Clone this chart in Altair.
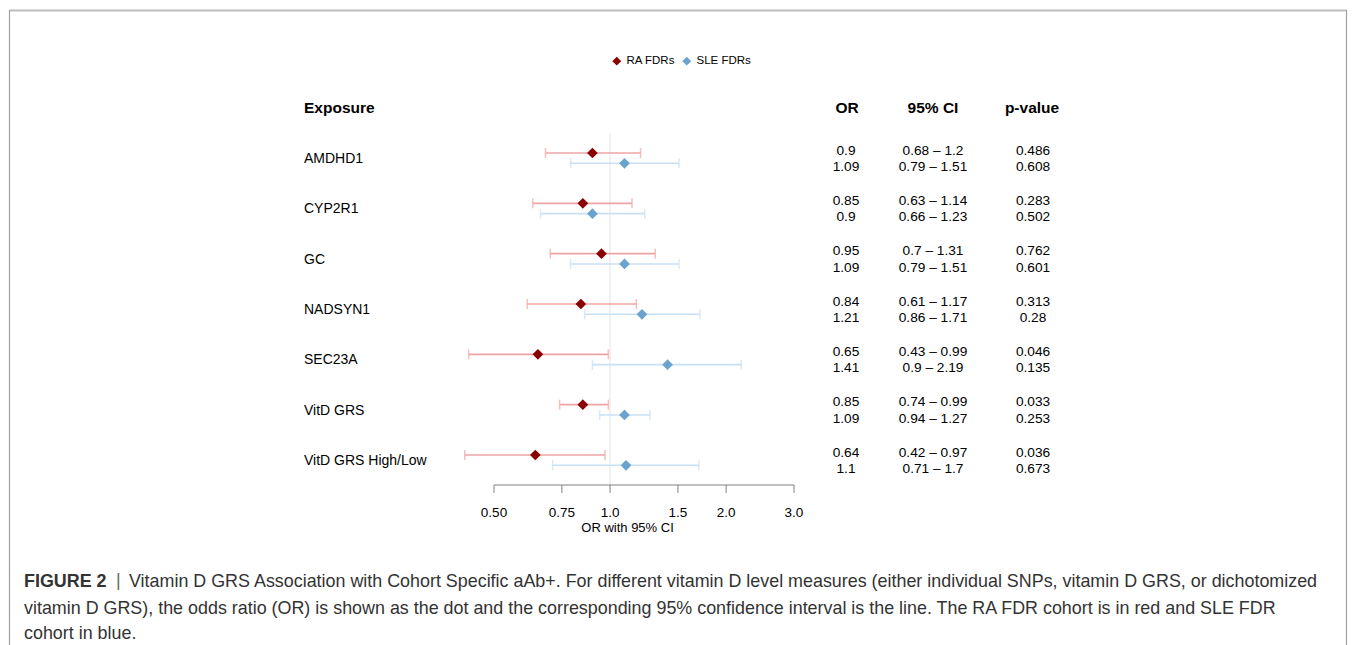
import altair as alt
import pandas as pd

# ---------------- data ----------------
exposures = ["AMDHD1", "CYP2R1", "GC", "NADSYN1", "SEC23A", "VitD GRS", "VitD GRS High/Low"]
series = ["RA FDRs", "SLE FDRs"]

ra_or = [0.9, 0.85, 0.95, 0.84, 0.65, 0.85, 0.64]
ra_lo = [0.68, 0.63, 0.7, 0.61, 0.43, 0.74, 0.42]
ra_hi = [1.2, 1.14, 1.31, 1.17, 0.99, 0.99, 0.97]
ra_p = ["0.486", "0.283", "0.762", "0.313", "0.046", "0.033", "0.036"]

sle_or = [1.09, 0.9, 1.09, 1.21, 1.41, 1.09, 1.1]
sle_lo = [0.79, 0.66, 0.79, 0.86, 0.9, 0.94, 0.71]
sle_hi = [1.51, 1.23, 1.51, 1.71, 2.19, 1.27, 1.7]
sle_p = ["0.608", "0.502", "0.601", "0.28", "0.135", "0.253", "0.673"]

tick_values = [0.5, 0.75, 1.0, 1.5, 2.0, 3.0]
tick_labels = ["0.50", "0.75", "1.0", "1.5", "2.0", "3.0"]

headers = ["Exposure", "OR", "95% CI", "p-value"]
x_title = "OR with 95% CI"

caption_bold = "FIGURE 2"
caption_sep = "|"
caption_lines = [
    "Vitamin D GRS Association with Cohort Specific aAb+. For different vitamin D level measures (either individual SNPs, vitamin D GRS, or dichotomized",
    "vitamin D GRS), the odds ratio (OR) is shown as the dot and the corresponding 95% confidence interval is the line. The RA FDR cohort is in red and SLE FDR",
    "cohort in blue.",
]

# ---------------- tables ----------------
def fmt(v):
    return str(v)

rows = []
for i, e in enumerate(exposures):
    rows.append(dict(exposure=e, series=series[0], OR=ra_or[i], lo=ra_lo[i], hi=ra_hi[i],
                     or_lab=fmt(ra_or[i]), ci_lab=f"{fmt(ra_lo[i])} \u2013 {fmt(ra_hi[i])}", p=ra_p[i]))
    rows.append(dict(exposure=e, series=series[1], OR=sle_or[i], lo=sle_lo[i], hi=sle_hi[i],
                     or_lab=fmt(sle_or[i]), ci_lab=f"{fmt(sle_lo[i])} \u2013 {fmt(sle_hi[i])}", p=sle_p[i]))
df = pd.DataFrame(rows)
df_ra = df[df.series == series[0]]
df_sle = df[df.series == series[1]]
df_lab = pd.DataFrame({"exposure": exposures})
df_ticks = pd.DataFrame({"v": tick_values, "lab": tick_labels})
df_dom = pd.DataFrame({"a": [tick_values[0]], "b": [tick_values[-1]]})
one = pd.DataFrame({"k": [0]})

FONT = "Liberation Sans"
RED = "#8B0000"
BLUE = "#6BA3CF"
RED_L = "#EFA4A4"
BLUE_L = "#C8E0F4"

W, H = 1341, 637
X = alt.Scale(type="log", domain=[0.5, 3.0], range=[486, 786], nice=False, zero=False)
Y = alt.Scale(type="point", domain=exposures, range=[150.5, 452.5], padding=0)

def xq(f):
    return alt.X(f, scale=X, axis=None)

def yn():
    return alt.Y("exposure:N", scale=Y, axis=None)

layers = []

# border
layers.append(alt.Chart(one).mark_rule(color="#bdbdbd", strokeWidth=2).encode(
    x=alt.value(1), x2=alt.value(1339), y=alt.value(2.5)))
layers.append(alt.Chart(one).mark_rule(color="#a0a0a0", strokeWidth=1.2).encode(
    x=alt.value(1.5), y=alt.value(2), y2=alt.value(H)))
layers.append(alt.Chart(one).mark_rule(color="#a0a0a0", strokeWidth=1.2).encode(
    x=alt.value(1338.5), y=alt.value(2), y2=alt.value(H)))

# reference line at OR = 1
layers.append(alt.Chart(one).mark_rule(color="#e3e3e3", strokeWidth=1).encode(
    x=alt.X("d:Q", scale=X, axis=None), y=alt.value(125), y2=alt.value(477)
).transform_calculate(d="1"))

# CI lines, caps and diamonds
for d, off, lc in [(df_ra, -5.5, RED_L), (df_sle, 4.8, BLUE_L)]:
    base = alt.Chart(d)
    layers.append(base.mark_rule(color=lc, strokeWidth=1.6, yOffset=off).encode(
        x=xq("lo:Q"), x2="hi:Q", y=yn()))
    layers.append(base.mark_tick(color=lc, thickness=1.5, size=10, yOffset=off, orient="vertical").encode(
        x=xq("lo:Q"), y=yn()))
    layers.append(base.mark_tick(color=lc, thickness=1.5, size=10, yOffset=off, orient="vertical").encode(
        x=xq("hi:Q"), y=yn()))
    layers.append(base.mark_point(shape="diamond", filled=True, size=115, opacity=1, yOffset=off).encode(
        x=xq("OR:Q"), y=yn(),
        color=alt.Color("series:N", scale=alt.Scale(domain=series, range=[RED, BLUE]),
                        legend=alt.Legend(title=None, orient="none", legendX=603, legendY=47,
                                          direction="horizontal", symbolType="diamond",
                                          symbolSize=80, symbolStrokeWidth=0,
                                          labelFontSize=11.5, labelFont=FONT, labelColor="#000",
                                          labelOffset=4, columnPadding=5, padding=0))))

# x axis (custom)
layers.append(alt.Chart(df_dom).mark_rule(color="#808080", strokeWidth=1).encode(
    x=xq("a:Q"), x2="b:Q", y=alt.value(477)))
layers.append(alt.Chart(df_ticks).mark_rule(color="#808080", strokeWidth=1).encode(
    x=xq("v:Q"), y=alt.value(477), y2=alt.value(485)))
layers.append(alt.Chart(df_ticks).mark_text(fontSize=13.5, font=FONT, color="#000", baseline="middle").encode(
    x=xq("v:Q"), y=alt.value(504.5), text="lab:N"))
layers.append(alt.Chart(one).mark_text(fontSize=13, font=FONT, color="#000", baseline="middle",
                                       text=x_title).encode(
    x=alt.X("d:Q", scale=X, axis=None), y=alt.value(520)).transform_calculate(d="1.11"))

# headers
for h, hx, al in zip(headers, [296, 839, 925, 1024], ["left", "center", "center", "center"]):
    layers.append(alt.Chart(one).mark_text(fontSize=15.5, font=FONT, fontWeight="bold", color="#000",
                                           align=al, baseline="middle", text=h).encode(
        x=alt.value(hx), y=alt.value(100)))

# exposure labels
layers.append(alt.Chart(df_lab).mark_text(fontSize=14, font=FONT, color="#000", align="left",
                                          baseline="middle", dy=0.5).encode(
    x=alt.value(296), y=yn(), text="exposure:N"))

# table columns
for d, off in [(df_ra, -8.0), (df_sle, 8.5)]:
    for col, cx in [("or_lab", 838), ("ci_lab", 925), ("p", 1025)]:
        layers.append(alt.Chart(d).mark_text(fontSize=13.7, font=FONT, color="#000", align="center",
                                             baseline="middle", yOffset=off).encode(
            x=alt.value(cx), y=yn(), text=f"{col}:N"))

# caption
CAP = "#333333"
CAP_FS = 17.9
layers.append(alt.Chart(one).mark_text(fontSize=CAP_FS, font=FONT, fontWeight="bold", color=CAP,
                                       align="left", baseline="middle", text=caption_bold).encode(
    x=alt.value(16), y=alt.value(574)))
layers.append(alt.Chart(one).mark_text(fontSize=CAP_FS, font=FONT, color="#666666",
                                       align="left", baseline="middle", text=caption_sep).encode(
    x=alt.value(108), y=alt.value(573)))
for line, cy, cx in zip(caption_lines, [574, 601, 626], [121, 16, 16]):
    layers.append(alt.Chart(one).mark_text(fontSize=CAP_FS, font=FONT, color=CAP, align="left",
                                           baseline="middle", text=line).encode(
        x=alt.value(cx), y=alt.value(cy)))

chart = alt.layer(*layers).properties(
    width=W, height=H, padding=0, autosize=alt.AutoSizeParams(type="none"), background="white"
).configure_view(stroke=None)

chart.save("out.html", embed_options={"renderer": "svg", "actions": False})
